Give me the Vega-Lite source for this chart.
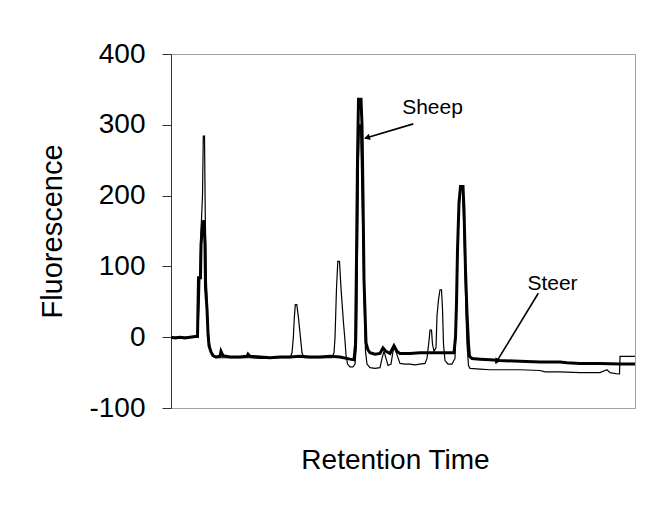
{
  "$schema": "https://vega.github.io/schema/vega-lite/v6.json",
  "width": 464,
  "height": 354,
  "autosize": {"type": "none"},
  "padding": {"left": 171, "top": 54, "right": 23, "bottom": 117},
  "background": "white",
  "config": {"view": {"stroke": "#a0a0a0", "strokeWidth": 1}, "font": "Liberation Sans"},
  "datasets": {
    "traces": [
      {"s":"Sheep","t":0,"v":0},{"s":"Sheep","t":0.4,"v":-1},{"s":"Sheep","t":0.9,"v":0},{"s":"Sheep","t":1.4,"v":-1},{"s":"Sheep","t":1.9,"v":0},{"s":"Sheep","t":2.4,"v":1},{"s":"Sheep","t":2.65,"v":1},{"s":"Sheep","t":2.75,"v":84},{"s":"Sheep","t":2.95,"v":84},{"s":"Sheep","t":3.0,"v":130},{"s":"Sheep","t":3.15,"v":160},{"s":"Sheep","t":3.3,"v":165},{"s":"Sheep","t":3.4,"v":130},{"s":"Sheep","t":3.45,"v":70},{"s":"Sheep","t":3.6,"v":40},{"s":"Sheep","t":3.7,"v":5},{"s":"Sheep","t":3.8,"v":-12},{"s":"Sheep","t":4.0,"v":-21},{"s":"Sheep","t":4.2,"v":-26},{"s":"Sheep","t":4.5,"v":-28},{"s":"Sheep","t":4.9,"v":-27},{"s":"Sheep","t":5.0,"v":-20},{"s":"Sheep","t":5.2,"v":-26},{"s":"Sheep","t":5.9,"v":-28},{"s":"Sheep","t":6.9,"v":-28},{"s":"Sheep","t":7.6,"v":-27},{"s":"Sheep","t":7.7,"v":-24},{"s":"Sheep","t":7.9,"v":-27},{"s":"Sheep","t":8.9,"v":-28},{"s":"Sheep","t":9.9,"v":-29},{"s":"Sheep","t":10.9,"v":-28},{"s":"Sheep","t":11.9,"v":-28},{"s":"Sheep","t":12.9,"v":-27},{"s":"Sheep","t":13.9,"v":-28},{"s":"Sheep","t":14.9,"v":-28},{"s":"Sheep","t":15.9,"v":-27},{"s":"Sheep","t":16.9,"v":-28},{"s":"Sheep","t":17.9,"v":-31},{"s":"Sheep","t":18.3,"v":-32},{"s":"Sheep","t":18.45,"v":-10},{"s":"Sheep","t":18.55,"v":110},{"s":"Sheep","t":18.65,"v":250},{"s":"Sheep","t":18.75,"v":336},{"s":"Sheep","t":19.0,"v":336},{"s":"Sheep","t":19.1,"v":300},{"s":"Sheep","t":19.2,"v":200},{"s":"Sheep","t":19.3,"v":81},{"s":"Sheep","t":19.5,"v":-8},{"s":"Sheep","t":19.7,"v":-18},{"s":"Sheep","t":19.9,"v":-22},{"s":"Sheep","t":20.4,"v":-24},{"s":"Sheep","t":20.9,"v":-23},{"s":"Sheep","t":21.2,"v":-15},{"s":"Sheep","t":21.5,"v":-20},{"s":"Sheep","t":21.9,"v":-23},{"s":"Sheep","t":22.3,"v":-12},{"s":"Sheep","t":22.6,"v":-20},{"s":"Sheep","t":22.9,"v":-23},{"s":"Sheep","t":23.9,"v":-23},{"s":"Sheep","t":24.9,"v":-22},{"s":"Sheep","t":25.9,"v":-22},{"s":"Sheep","t":26.9,"v":-22},{"s":"Sheep","t":27.9,"v":-22},{"s":"Sheep","t":28.3,"v":-22},{"s":"Sheep","t":28.45,"v":0},{"s":"Sheep","t":28.55,"v":48},{"s":"Sheep","t":28.65,"v":123},{"s":"Sheep","t":28.8,"v":190},{"s":"Sheep","t":28.95,"v":213},{"s":"Sheep","t":29.2,"v":213},{"s":"Sheep","t":29.3,"v":180},{"s":"Sheep","t":29.45,"v":95},{"s":"Sheep","t":29.6,"v":34},{"s":"Sheep","t":29.75,"v":-10},{"s":"Sheep","t":29.85,"v":-27},{"s":"Sheep","t":30.1,"v":-30},{"s":"Sheep","t":30.9,"v":-31},{"s":"Sheep","t":31.9,"v":-32},{"s":"Sheep","t":32.9,"v":-33},{"s":"Sheep","t":34.9,"v":-34},{"s":"Sheep","t":36.9,"v":-35},{"s":"Sheep","t":38.9,"v":-35},{"s":"Sheep","t":39.6,"v":-36},{"s":"Sheep","t":40.9,"v":-37},{"s":"Sheep","t":42.9,"v":-37},{"s":"Sheep","t":44.9,"v":-38},{"s":"Sheep","t":46.4,"v":-38},
      {"s":"Steer","t":0,"v":0},{"s":"Steer","t":2.6,"v":0},{"s":"Steer","t":2.7,"v":10},{"s":"Steer","t":2.85,"v":60},{"s":"Steer","t":3.0,"v":150},{"s":"Steer","t":3.15,"v":200},{"s":"Steer","t":3.23,"v":284},{"s":"Steer","t":3.35,"v":284},{"s":"Steer","t":3.42,"v":180},{"s":"Steer","t":3.5,"v":100},{"s":"Steer","t":3.65,"v":30},{"s":"Steer","t":3.8,"v":-5},{"s":"Steer","t":4.0,"v":-20},{"s":"Steer","t":4.2,"v":-27},{"s":"Steer","t":4.5,"v":-29},{"s":"Steer","t":4.9,"v":-29},{"s":"Steer","t":5.9,"v":-29},{"s":"Steer","t":6.9,"v":-29},{"s":"Steer","t":7.9,"v":-29},{"s":"Steer","t":8.9,"v":-30},{"s":"Steer","t":9.9,"v":-30},{"s":"Steer","t":10.9,"v":-29},{"s":"Steer","t":11.9,"v":-29},{"s":"Steer","t":12.1,"v":-22},{"s":"Steer","t":12.23,"v":-1},{"s":"Steer","t":12.33,"v":27},{"s":"Steer","t":12.43,"v":46},{"s":"Steer","t":12.58,"v":46},{"s":"Steer","t":12.75,"v":27},{"s":"Steer","t":12.95,"v":-1},{"s":"Steer","t":13.1,"v":-22},{"s":"Steer","t":13.3,"v":-29},{"s":"Steer","t":14.4,"v":-29},{"s":"Steer","t":15.4,"v":-29},{"s":"Steer","t":16.1,"v":-29},{"s":"Steer","t":16.3,"v":-22},{"s":"Steer","t":16.4,"v":-1},{"s":"Steer","t":16.55,"v":69},{"s":"Steer","t":16.68,"v":107},{"s":"Steer","t":16.85,"v":107},{"s":"Steer","t":17.0,"v":69},{"s":"Steer","t":17.25,"v":20},{"s":"Steer","t":17.4,"v":-5},{"s":"Steer","t":17.5,"v":-25},{"s":"Steer","t":17.65,"v":-38},{"s":"Steer","t":17.9,"v":-42},{"s":"Steer","t":18.2,"v":-42},{"s":"Steer","t":18.4,"v":-38},{"s":"Steer","t":18.55,"v":-10},{"s":"Steer","t":18.65,"v":120},{"s":"Steer","t":18.75,"v":250},{"s":"Steer","t":18.85,"v":300},{"s":"Steer","t":18.95,"v":300},{"s":"Steer","t":19.1,"v":200},{"s":"Steer","t":19.25,"v":100},{"s":"Steer","t":19.35,"v":30},{"s":"Steer","t":19.45,"v":-20},{"s":"Steer","t":19.6,"v":-38},{"s":"Steer","t":19.9,"v":-43},{"s":"Steer","t":20.4,"v":-44},{"s":"Steer","t":20.9,"v":-43},{"s":"Steer","t":21.1,"v":-30},{"s":"Steer","t":21.3,"v":-20},{"s":"Steer","t":21.5,"v":-30},{"s":"Steer","t":21.7,"v":-40},{"s":"Steer","t":22.0,"v":-38},{"s":"Steer","t":22.2,"v":-20},{"s":"Steer","t":22.4,"v":-15},{"s":"Steer","t":22.6,"v":-25},{"s":"Steer","t":22.9,"v":-37},{"s":"Steer","t":23.4,"v":-38},{"s":"Steer","t":23.9,"v":-38},{"s":"Steer","t":24.4,"v":-39},{"s":"Steer","t":24.9,"v":-38},{"s":"Steer","t":25.4,"v":-37},{"s":"Steer","t":25.6,"v":-30},{"s":"Steer","t":25.8,"v":-5},{"s":"Steer","t":25.9,"v":10},{"s":"Steer","t":26.05,"v":10},{"s":"Steer","t":26.15,"v":-10},{"s":"Steer","t":26.3,"v":-20},{"s":"Steer","t":26.5,"v":-15},{"s":"Steer","t":26.6,"v":30},{"s":"Steer","t":26.75,"v":53},{"s":"Steer","t":26.9,"v":67},{"s":"Steer","t":27.05,"v":67},{"s":"Steer","t":27.15,"v":40},{"s":"Steer","t":27.25,"v":-10},{"s":"Steer","t":27.4,"v":-33},{"s":"Steer","t":27.7,"v":-38},{"s":"Steer","t":28.1,"v":-38},{"s":"Steer","t":28.4,"v":-30},{"s":"Steer","t":28.55,"v":40},{"s":"Steer","t":28.65,"v":120},{"s":"Steer","t":28.8,"v":180},{"s":"Steer","t":28.95,"v":210},{"s":"Steer","t":29.15,"v":210},{"s":"Steer","t":29.3,"v":150},{"s":"Steer","t":29.4,"v":90},{"s":"Steer","t":29.5,"v":34},{"s":"Steer","t":29.6,"v":-10},{"s":"Steer","t":29.75,"v":-40},{"s":"Steer","t":29.9,"v":-44},{"s":"Steer","t":30.9,"v":-45},{"s":"Steer","t":31.9,"v":-46},{"s":"Steer","t":32.9,"v":-46},{"s":"Steer","t":34.9,"v":-46},{"s":"Steer","t":36.9,"v":-47},{"s":"Steer","t":37.4,"v":-49},{"s":"Steer","t":38.9,"v":-49},{"s":"Steer","t":40.9,"v":-50},{"s":"Steer","t":42.9,"v":-50},{"s":"Steer","t":43.6,"v":-46},{"s":"Steer","t":43.9,"v":-50},{"s":"Steer","t":44.7,"v":-52},{"s":"Steer","t":44.85,"v":-52},{"s":"Steer","t":44.9,"v":-27},{"s":"Steer","t":46.4,"v":-27}
    ],
    "notes": [
      {"label":"Sheep","t":26.15,"v":315.4},
      {"label":"Steer","t":38.15,"v":66.8}
    ],
    "arrows": [
      {"label":"Sheep","t":24.23,"v":301.3,"t2":19.4,"v2":281.1,"ht":19.69,"hv":282.2,"dir":253.5},
      {"label":"Steer","t":36.73,"v":62.1,"t2":32.47,"v2":-36.7,"ht":32.63,"hv":-33.1,"dir":211.3}
    ]
  },
  "layer": [
    {
      "data": {"name": "traces"},
      "transform": [{"filter": "datum.s === 'Sheep'"}],
      "mark": {"type": "line", "color": "black", "strokeWidth": 3, "strokeJoin": "miter", "clip": true},
      "encoding": {
        "x": {"field": "t", "type": "quantitative",
          "scale": {"domain": [0, 46.4], "nice": false, "zero": false},
          "axis": {"title": "Retention Time", "ticks": false, "labels": false, "grid": false,
            "domainColor": "#a0a0a0", "titleFont": "Liberation Sans", "titleFontSize": 28,
            "titleFontWeight": "normal", "titleColor": "black", "titleX": 224, "titleY": 60,
            "titleAlign": "center", "titleBaseline": "alphabetic"}},
        "y": {"field": "v", "type": "quantitative",
          "scale": {"domain": [-100, 400], "nice": false, "zero": false},
          "axis": {"title": "Fluorescence", "values": [-100, 0, 100, 200, 300, 400], "grid": false,
            "labelExpr": "'' + datum.value",
            "tickSize": 9, "tickColor": "#333333", "domainColor": "#333333",
            "labelFont": "Liberation Sans", "labelFontSize": 28, "labelColor": "black", "labelPadding": 17,
            "titleFont": "Liberation Sans", "titleFontSize": 29, "titleFontWeight": "normal", "titleColor": "black",
            "titleAngle": -90, "titleX": -110, "titleY": 177, "titleAlign": "center", "titleBaseline": "alphabetic"}}
      }
    },
    {
      "data": {"name": "traces"},
      "transform": [{"filter": "datum.s === 'Steer'"}],
      "mark": {"type": "line", "color": "black", "strokeWidth": 1.2, "clip": true},
      "encoding": {
        "x": {"field": "t", "type": "quantitative"},
        "y": {"field": "v", "type": "quantitative"}
      }
    },
    {
      "data": {"name": "arrows"},
      "mark": {"type": "rule", "color": "black", "strokeWidth": 1.6},
      "encoding": {
        "x": {"field": "t", "type": "quantitative"},
        "y": {"field": "v", "type": "quantitative"},
        "x2": {"field": "t2"},
        "y2": {"field": "v2"}
      }
    },
    {
      "data": {"name": "arrows"},
      "mark": {"type": "point", "shape": "triangle", "filled": true, "color": "black", "size": 45, "opacity": 1},
      "encoding": {
        "x": {"field": "ht", "type": "quantitative"},
        "y": {"field": "hv", "type": "quantitative"},
        "angle": {"field": "dir", "type": "quantitative", "scale": null}
      }
    },
    {
      "data": {"name": "notes"},
      "mark": {"type": "text", "font": "Liberation Sans", "fontSize": 21, "color": "black", "align": "center", "baseline": "alphabetic"},
      "encoding": {
        "x": {"field": "t", "type": "quantitative"},
        "y": {"field": "v", "type": "quantitative"},
        "text": {"field": "label"}
      }
    }
  ]
}
